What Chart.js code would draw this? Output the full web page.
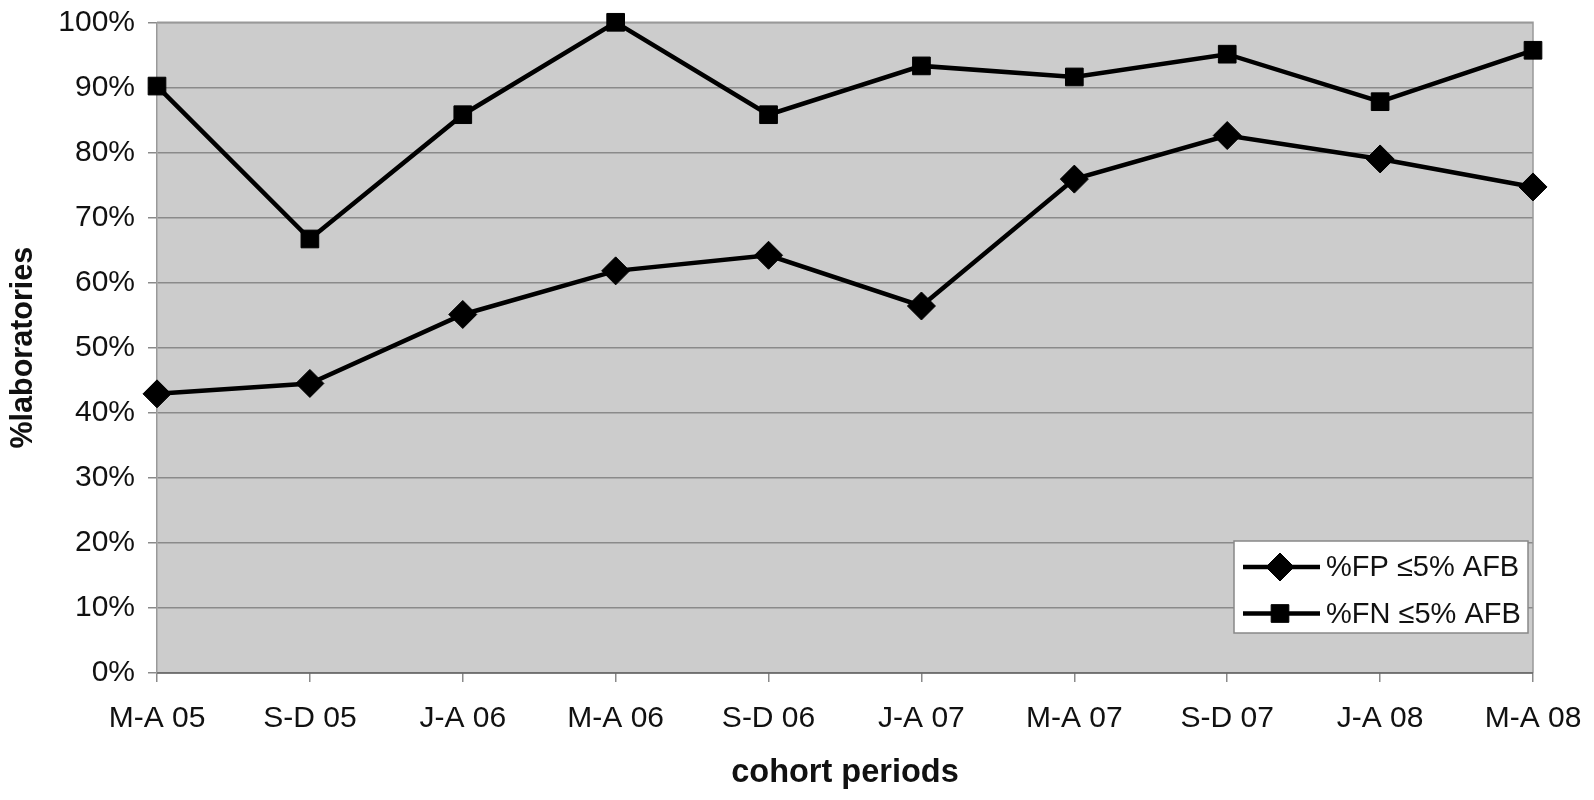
<!DOCTYPE html>
<html lang="en">
<head>
  <meta charset="UTF-8" />
  <title>%laboratories by cohort period</title>
  <script src="https://cdn.jsdelivr.net/npm/chart.js"></script>
  <style>
    body { margin: 0; background: #fff; }
    #chart { display: block; }
  </style>
</head>
<body>
<canvas id="chart" width="1594" height="800"></canvas>
<script>
const periods = ['M-A 05', 'S-D 05', 'J-A 06', 'M-A 06', 'S-D 06', 'J-A 07', 'M-A 07', 'S-D 07', 'J-A 08', 'M-A 08'];
const fpValues = [42.9, 44.5, 55.1, 61.8, 64.2, 56.4, 75.9, 82.6, 79.0, 74.7];
const fnValues = [90.2, 66.7, 85.8, 100, 85.8, 93.3, 91.6, 95.1, 87.8, 95.7];
const seriesNames = ['%FP \u22645% AFB', '%FN \u22645% AFB'];

const FONT = "'Liberation Sans', Arial, sans-serif";
const GRID = '#8a8a8a';

// grey plot area + frame
const plotBackground = {
  id: 'plotBackground',
  beforeDraw(chart) {
    const { ctx, chartArea: a } = chart;
    ctx.save();
    ctx.fillStyle = '#cccccc';
    ctx.fillRect(a.left, a.top, a.right - a.left, a.bottom - a.top);
    ctx.restore();
  },
  beforeDatasetsDraw(chart) {
    const { ctx, chartArea: a } = chart;
    ctx.save();
    ctx.strokeStyle = '#999999';
    ctx.lineWidth = 1.5;
    ctx.beginPath();
    ctx.moveTo(a.left, a.top);
    ctx.lineTo(a.right, a.top);
    ctx.lineTo(a.right, a.bottom);
    ctx.stroke();
    ctx.strokeStyle = '#666666';
    ctx.beginPath();
    ctx.moveTo(a.left, a.bottom);
    ctx.lineTo(a.right, a.bottom);
    ctx.stroke();
    ctx.restore();
  }
};

// legend box inside the plot, line + marker swatches
const innerLegend = {
  id: 'innerLegend',
  afterDraw(chart) {
    const { ctx, chartArea: a } = chart;
    const w = 294, h = 92;
    const x0 = a.right - 5 - w, y0 = a.bottom - 40 - h;
    ctx.save();
    ctx.fillStyle = '#ffffff';
    ctx.fillRect(x0, y0, w, h);
    ctx.strokeStyle = '#888888';
    ctx.lineWidth = 1.5;
    ctx.strokeRect(x0, y0, w, h);
    chart.data.datasets.forEach((ds, i) => {
      const y = y0 + 26 + i * 46.5;
      ctx.strokeStyle = ds.borderColor;
      ctx.lineWidth = ds.borderWidth;
      ctx.beginPath();
      ctx.moveTo(x0 + 9, y);
      ctx.lineTo(x0 + 86, y);
      ctx.stroke();
      ctx.fillStyle = ds.pointBackgroundColor;
      ctx.strokeStyle = ds.pointBorderColor;
      ctx.lineWidth = 1;
      Chart.helpers.drawPoint(ctx, { pointStyle: ds.pointStyle, radius: ds.pointRadius, rotation: 0, borderWidth: 1 }, x0 + 46, y);
      ctx.fillStyle = '#111111';
      ctx.font = '29px ' + FONT;
      ctx.textAlign = 'left';
      ctx.textBaseline = 'middle';
      ctx.fillText(ds.label, x0 + 92, y + 1);
    });
    ctx.restore();
  }
};

new Chart(document.getElementById('chart').getContext('2d'), {
  type: 'line',
  data: {
    labels: periods,
    datasets: [
      {
        label: seriesNames[0],
        data: fpValues,
        borderColor: '#000000',
        borderWidth: 4.5,
        pointStyle: 'rectRot',
        pointRadius: 14,
        pointBackgroundColor: '#000000',
        pointBorderColor: '#000000',
        pointBorderWidth: 1,
        tension: 0,
        clip: false
      },
      {
        label: seriesNames[1],
        data: fnValues,
        borderColor: '#000000',
        borderWidth: 4.5,
        pointStyle: 'rect',
        pointRadius: 12.5,
        pointBackgroundColor: '#000000',
        pointBorderColor: '#000000',
        pointBorderWidth: 1,
        tension: 0,
        clip: false
      }
    ]
  },
  options: {
    responsive: false,
    devicePixelRatio: 1,
    animation: false,
    layout: { padding: { top: 22.3, right: 61, bottom: 0, left: 0 } },
    plugins: {
      legend: { display: false },
      tooltip: { enabled: false }
    },
    scales: {
      x: {
        offset: false,
        afterFit(scale) {
          scale.height = 127;
          scale.paddingLeft = 0;
          scale.paddingRight = 0;
        },
        grid: { drawOnChartArea: false, drawTicks: true, tickLength: 9, color: GRID, lineWidth: 1.5 },
        border: { display: false },
        ticks: { color: '#111111', font: { family: FONT, size: 30 }, padding: 19, maxRotation: 0, autoSkip: false },
        title: {
          display: true,
          text: 'cohort periods',
          color: '#111111',
          font: { family: FONT, size: 32.5, weight: 'bold' },
          padding: { top: 4, bottom: 7 }
        }
      },
      y: {
        min: 0,
        max: 100,
        afterFit(scale) {
          scale.width = 157;
          scale.paddingTop = 0;
          scale.paddingBottom = 0;
        },
        grid: { color: GRID, lineWidth: 1.5, tickLength: 9 },
        border: { display: true, color: '#999999', width: 1.5 },
        ticks: {
          stepSize: 10,
          color: '#111111',
          font: { family: FONT, size: 30 },
          padding: 13,
          callback: v => v + '%'
        },
        title: {
          display: true,
          text: '%laboratories',
          color: '#111111',
          font: { family: FONT, size: 30.5, weight: 'bold' },
          padding: { top: 5, bottom: 4 }
        }
      }
    }
  },
  plugins: [plotBackground, innerLegend]
});
</script>
</body>
</html>
